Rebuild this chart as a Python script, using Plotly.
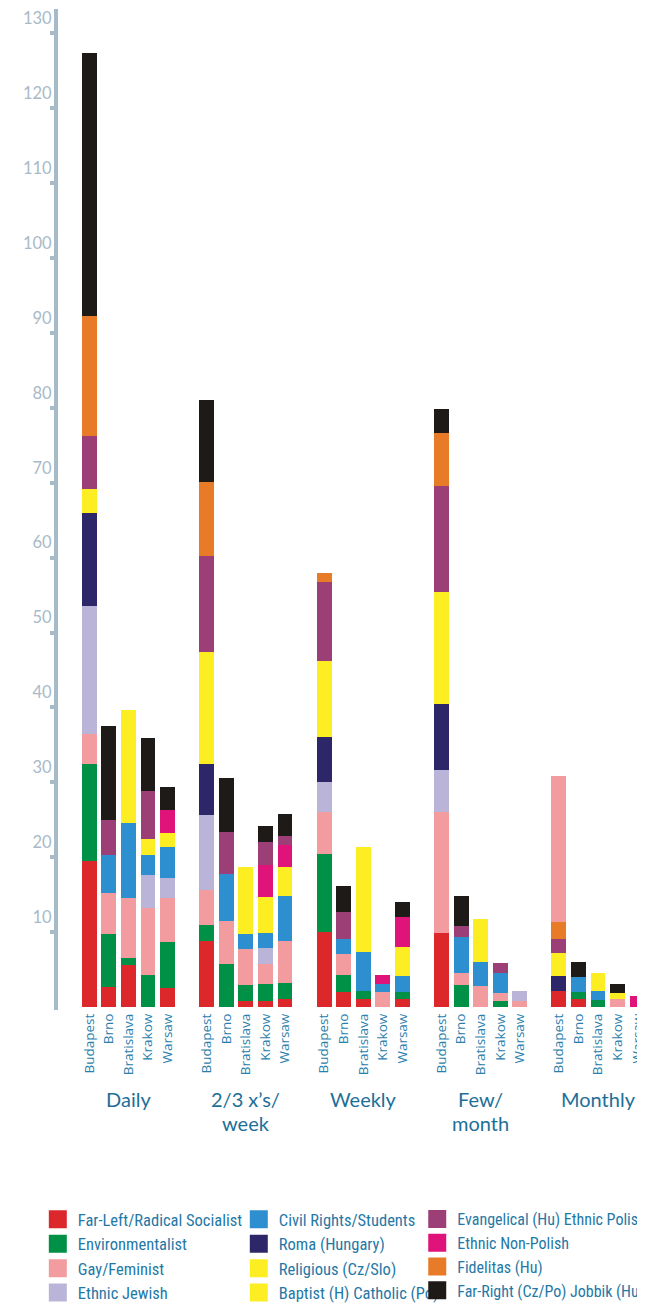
import plotly.graph_objects as go

# ---------------- data ----------------
groups = ["Daily", "2/3 x’s/<br>week", "Weekly", "Few/<br>month", "Monthly"]
cities = ["Budapest", "Brno", "Bratislava", "Krakow", "Warsaw"]

# values per bar: 5 groups x 5 cities (Budapest, Brno, Bratislava, Krakow, Warsaw)
far_left = [19.5, 2.7, 5.6, 0, 2.5,   8.8, 0, 0.8, 0.8, 1.1,   10.0, 2.0, 1.1, 0, 1.1,   9.9, 0, 0, 0, 0,   2.2, 1.1, 0, 0, 0]
environmentalist = [13.0, 7.0, 0.9, 4.3, 6.2,   2.2, 5.8, 2.1, 2.3, 2.1,   10.4, 2.3, 1.1, 0, 0.9,   0, 2.9, 0, 0.8, 0,   0, 0.9, 1.0, 0, 0]
gay_feminist = [3.9, 5.5, 8.1, 8.9, 5.9,   4.6, 5.7, 4.8, 2.7, 5.6,   5.6, 2.8, 0, 2.0, 0,   16.2, 1.6, 2.8, 1.1, 0.8,   0, 0, 0, 1.1, 0]
ethnic_jewish = [17.2, 0, 0, 4.4, 2.6,   10.0, 0, 0, 2.1, 0,   4.1, 0, 0, 0, 0,   5.5, 0, 0, 0, 1.3,   0, 0, 0, 0, 0]
civil_rights = [0, 5.1, 10.0, 2.7, 4.1,   0, 6.2, 2.1, 2.0, 6.0,   0, 2.0, 5.2, 1.1, 2.1,   0, 4.9, 3.2, 2.7, 0,   0, 2.0, 1.2, 0, 0]
roma = [12.3, 0, 0, 0, 0,   6.8, 0, 0, 0, 0,   5.9, 0, 0, 0, 0,   8.9, 0, 0, 0, 0,   1.9, 0, 0, 0, 0]
religious = [0, 0, 15.1, 0, 0,   0, 0, 8.9, 0, 0,   0, 0, 14.0, 0, 0,   0, 0, 5.8, 0, 0,   0, 0, 2.4, 0, 0]
baptist_catholic = [3.3, 0, 0, 2.1, 1.9,   15.0, 0, 0, 4.8, 3.9,   10.2, 0, 0, 0, 3.9,   14.9, 0, 0, 0, 0,   3.1, 0, 0, 0.8, 0]
ethnic_non_polish = [0, 0, 0, 0, 3.1,   0, 0, 0, 4.2, 2.9,   0, 0, 0, 1.2, 4.0,   0, 0, 0, 0, 0,   0, 0, 0, 0, 1.5]
evangelical_polish = [7.0, 4.7, 0, 6.5, 0,   12.8, 5.7, 0, 3.1, 1.2,   10.6, 3.6, 0, 0, 0,   14.2, 1.4, 0, 1.3, 0,   1.9, 0, 0, 0, 0]
fidelitas = [16.0, 0, 0, 0, 0,   9.9, 0, 0, 0, 0,   1.2, 0, 0, 0, 0,   7.1, 0, 0, 0, 0,   2.3, 0, 0, 0, 0]
far_right = [35.2, 12.5, 0, 7.0, 3.1,   11.0, 7.2, 0, 2.2, 3.0,   0, 3.5, 0, 0, 2.0,   3.2, 4.0, 0, 0, 0,   0, 2.0, 0, 1.2, 0]
# Monthly Budapest: the Gay/Feminist block sits on top of the stack
gay_feminist_top = [0, 0, 0, 0, 0,   0, 0, 0, 0, 0,   0, 0, 0, 0, 0,   0, 0, 0, 0, 0,   19.5, 0, 0, 0, 0]

y_ticks = [10, 20, 30, 40, 50, 60, 70, 80, 90, 100, 110, 120, 130]

# ---------------- style ----------------
TEAL = "#1f78a6"
AXIS = "#a6bac8"
NARROW = "Liberation Sans Narrow, Roboto Condensed, DejaVu Sans Condensed, Arial Narrow, sans-serif"
SANS = "Lato, Open Sans, sans-serif"

# (name, values, colour, legend id, rank in legend column, shown in legend)
series = [
    ("Far-Left/Radical Socialist", far_left, "#dc282b", "legend", 1, True),
    ("Environmentalist", environmentalist, "#009046", "legend", 2, True),
    ("Gay/Feminist", gay_feminist, "#f39ca0", "legend", 3, True),
    ("Ethnic Jewish", ethnic_jewish, "#bab5d8", "legend", 4, True),
    ("Civil Rights/Students", civil_rights, "#2d8fd0", "legend2", 1, True),
    ("Roma (Hungary)", roma, "#2d276a", "legend2", 2, True),
    ("Religious (Cz/Slo)", religious, "#fcee23", "legend2", 3, True),
    ("Baptist (H) Catholic (Po)", baptist_catholic, "#fcee23", "legend2", 4, True),
    ("Ethnic Non-Polish", ethnic_non_polish, "#e0137b", "legend3", 2, True),
    ("Evangelical (Hu) Ethnic Polish", evangelical_polish, "#9d3f77", "legend3", 1, True),
    ("Fidelitas (Hu)", fidelitas, "#e77b27", "legend3", 3, True),
    ("Far-Right (Cz/Po) Jobbik (Hu)", far_right, "#1e1a18", "legend3", 4, True),
    ("Gay/Feminist", gay_feminist_top, "#f39ca0", "legend", 3, False),
]

slots_per_group = len(cities) + 1
x_pos = [g * slots_per_group + i for g in range(len(groups)) for i in range(len(cities))]
tick_text = [c for _ in groups for c in cities]

fig = go.Figure()
for name, vals, col, leg, rank, show in series:
    fig.add_trace(go.Bar(
        x=x_pos, y=vals, name=name, width=0.76,
        marker=dict(color=col, line=dict(width=0)),
        legendgroup=name, showlegend=False,
        hovertemplate=name + ": %{y}<extra></extra>",
    ))

# legend entries (square swatches)
for name, vals, col, leg, rank, show in series:
    if not show:
        continue
    fig.add_trace(go.Scatter(
        x=[None], y=[None], mode="markers", name=name,
        marker=dict(symbol="square", size=16, color=col, line=dict(width=2, color=col)),
        legend=leg, legendrank=rank, legendgroup=name, showlegend=True, hoverinfo="skip",
    ))

# group labels (lines set tightly, as in the original)
PLOT_H = 1001
for g, label in enumerate(groups):
    for k, line in enumerate(label.split("<br>")):
        fig.add_annotation(
            x=g * slots_per_group + (len(cities) - 1) / 2, xref="x",
            y=-(89 + 23.5 * k) / PLOT_H, yref="paper", yanchor="middle", xanchor="center",
            text=line, showarrow=False, align="center", borderpad=0,
            font=dict(family=SANS, size=20, color="#1d6f98"),
        )

legend_common = dict(
    xanchor="left", yanchor="top", traceorder="normal", xref="paper", yref="container",
    bgcolor="rgba(0,0,0,0)", borderwidth=0, tracegroupgap=0,
    itemclick=False, itemdoubleclick=False,
)
LEG_Y = 0.0794
LEG_FONT = dict(family=NARROW, size=16.5, color=TEAL)

# the page adds an 8 px body margin, so the figure is 8 px smaller than the window
fig.update_layout(
    width=637, height=1297,
    margin=dict(l=50, r=0, t=1, b=295, autoexpand=False),
    paper_bgcolor="white", plot_bgcolor="white",
    barmode="stack", bargap=0,
    xaxis=dict(
        range=[-1.6, 28.4], tickmode="array", tickvals=x_pos, ticktext=tick_text,
        tickangle=-90, tickfont=dict(family="Open Sans, Lato, sans-serif", size=13.5, color="#2a80ad"),
        ticklabeloverflow="allow",
        showgrid=False, zeroline=False, showline=False, ticks="", fixedrange=True,
        automargin=False,
    ),
    yaxis=dict(
        range=[-0.4, 133.25], tickmode="array", tickvals=y_ticks,
        showgrid=False, zeroline=False, showline=True, linecolor=AXIS, linewidth=4,
        ticks="outside", ticklen=4, tickwidth=4, tickcolor=AXIS,
        ticklabelshift=-15, ticklabelstandoff=-5,
        tickfont=dict(family=SANS, size=16.5, color="#a8bac8"),
        fixedrange=True, automargin=False,
    ),
    legend=dict(x=-0.0344, y=LEG_Y, font=LEG_FONT, **legend_common),
    legend2=dict(x=0.308, y=LEG_Y, font=LEG_FONT, **legend_common),
    legend3=dict(x=0.612, y=LEG_Y, font=dict(LEG_FONT, size=16), **legend_common),
)

fig.write_html("out.html")
